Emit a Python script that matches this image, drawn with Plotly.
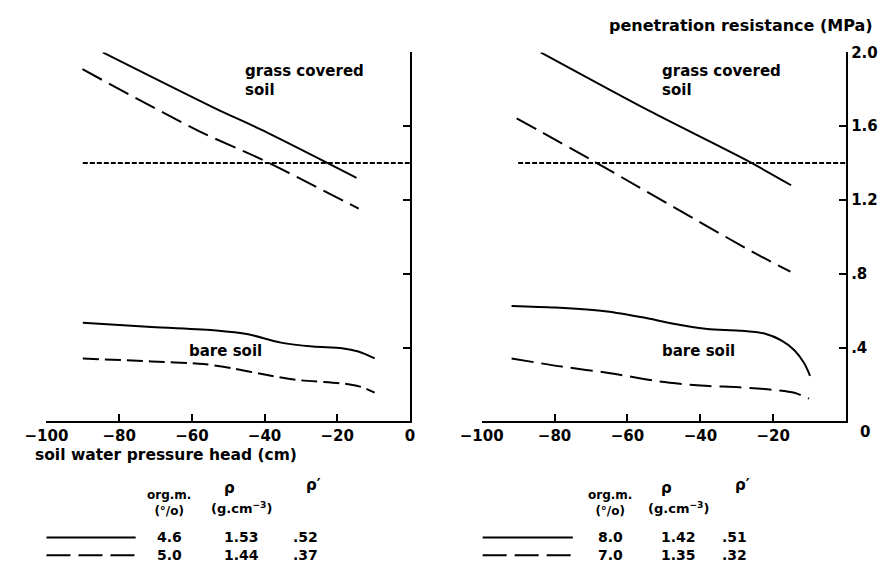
import plotly.graph_objects as go

# page body has an 8px default margin; the figure is sized to fill the rest of the window
OFF = 8
W, H = 887 - OFF, 568 - OFF

# ---------------- data ----------------
x_ticks = [-100, -80, -60, -40, -20, 0]
x_ticktext = ["\u2212100", "\u221280", "\u221260", "\u221240", "\u221220", "0"]
y_ticks = [0.4, 0.8, 1.2, 1.6, 2.0]
y_ticktext = [".4", ".8", "1.2", "1.6", "2.0"]

ref_x = [-90, 0]
ref_y = [1.4, 1.4]

left_grass_solid_x = [-84.5, -53.3, -40.8, -14.7]
left_grass_solid_y = [2.0, 1.694, 1.58, 1.32]
left_grass_dash_x = [-90.1, -57.8, -40.8, -14.1]
left_grass_dash_y = [1.909, 1.571, 1.42, 1.153]
left_bare_solid_x = [-90, -71.1, -53.3, -44.5, -35.5, -26.7, -18.7, -14.2, -9.7]
left_bare_solid_y = [0.535, 0.511, 0.493, 0.472, 0.427, 0.406, 0.397, 0.379, 0.342]
left_bare_dash_x = [-90, -71.1, -56.8, -48.9, -40, -31.2, -17.9, -13.3, -9.7]
left_bare_dash_y = [0.341, 0.325, 0.311, 0.288, 0.254, 0.225, 0.204, 0.186, 0.156]

right_grass_solid_x = [-83.8, -54.1, -27.5, -15.1]
right_grass_solid_y = [2.0, 1.684, 1.417, 1.28]
right_grass_dash_x = [-90.4, -69.1, -25.7, -15.3]
right_grass_dash_y = [1.643, 1.408, 0.919, 0.812]
right_bare_solid_x = [-91.8, -79.8, -65.6, -55.9, -47, -38.1, -29.3, -22.2, -17.8, -14.2, -11.5, -9.9]
right_bare_solid_y = [0.626, 0.617, 0.596, 0.564, 0.528, 0.501, 0.492, 0.475, 0.439, 0.386, 0.315, 0.247]
right_bare_dash_x = [-91.8, -78, -64.7, -51.4, -39.9, -29.3, -20.4, -14.2, -10.2]
right_bare_dash_y = [0.341, 0.297, 0.261, 0.217, 0.194, 0.185, 0.172, 0.155, 0.123]

left_orgm = ["4.6", "5.0"]
left_rho = ["1.53", "1.44"]
left_rhop = [".52", ".37"]
right_orgm = ["8.0", "7.0"]
right_rho = ["1.42", "1.35"]
right_rhop = [".51", ".32"]

FONT = "DejaVu Sans"
BLACK = "black"
SOLID = "solid"
DASH = "22px,8px"
DOT = "5px,2px"


def px(x):
    return (x - OFF) / W


def py(y):
    return 1 - (y - OFF) / H


fig = go.Figure()


def add_line(x, y, dash, xa, ya, spline=False):
    fig.add_trace(go.Scatter(
        x=x, y=y, mode="lines", xaxis=xa, yaxis=ya, showlegend=False,
        line=dict(color=BLACK, width=2, dash=dash,
                  shape="spline" if spline else "linear", smoothing=0.8),
        hoverinfo="skip"))


add_line(ref_x, ref_y, DOT, "x", "y")
add_line(left_grass_solid_x, left_grass_solid_y, SOLID, "x", "y", True)
add_line(left_grass_dash_x, left_grass_dash_y, DASH, "x", "y", True)
add_line(left_bare_solid_x, left_bare_solid_y, SOLID, "x", "y", True)
add_line(left_bare_dash_x, left_bare_dash_y, "16px,6px", "x", "y", True)

add_line(ref_x, ref_y, DOT, "x2", "y2")
add_line(right_grass_solid_x, right_grass_solid_y, SOLID, "x2", "y2", True)
add_line(right_grass_dash_x, right_grass_dash_y, DASH, "x2", "y2", True)
add_line(right_bare_solid_x, right_bare_solid_y, SOLID, "x2", "y2", True)
add_line(right_bare_dash_x, right_bare_dash_y, DASH, "x2", "y2", True)

ydom = [py(419), py(44)]
tickfont = dict(family=FONT, size=15, color=BLACK, weight="bold")
common_x = dict(range=[-100, 0], showline=True, linewidth=2, linecolor=BLACK,
                ticks="inside", ticklen=7, tickwidth=2, tickcolor=BLACK,
                showgrid=False, zeroline=False, tickfont=tickfont)
common_y = dict(range=[0, 2.0], domain=ydom, side="right", showline=True,
                linewidth=2, linecolor=BLACK, ticks="inside", ticklen=7,
                tickwidth=2, tickcolor=BLACK, showgrid=False, zeroline=False,
                tickvals=y_ticks, ticktext=y_ticktext, tickfont=tickfont)

fig.update_layout(
    width=W, height=H, margin=dict(l=0, r=0, t=0, b=0),
    paper_bgcolor="white", plot_bgcolor="white",
    font=dict(family=FONT, size=15, color=BLACK),
    xaxis=dict(domain=[px(25), px(400)], anchor="y",
               tickvals=x_ticks, ticktext=x_ticktext, **common_x),
    yaxis=dict(anchor="x", showticklabels=False, **common_y),
    xaxis2=dict(domain=[px(474), px(850)], anchor="y2",
                tickvals=x_ticks[:-1], ticktext=x_ticktext[:-1], **common_x),
    yaxis2=dict(anchor="x2", showticklabels=True, **common_y),
)

anns = []


def ann(text, x, y, xanchor="left", size=14):
    anns.append(dict(text=text, x=px(x), y=py(y), xref="paper", yref="paper",
                     xanchor=xanchor, yanchor="middle", showarrow=False,
                     font=dict(family=FONT, size=size, color=BLACK, weight="bold")))


ann("grass covered", 228, 63, size=15)
ann("soil", 228, 82, size=15)
ann("grass covered", 658, 63, size=15)
ann("soil", 658, 82, size=15)
ann("bare soil", 210, 347, "center", 15)
ann("bare soil", 698, 347, "center", 15)
ann("0", 869, 430, "center", 15)
ann("soil water pressure head (cm)", 11, 453, size=15.5)
ann("penetration resistance (MPa)", 603, 17, size=16)


def table(x_line0, x_line1, cx_org, cx_rho, cx_rhop, orgm, rho, rhop):
    ann("org.m.<br>(\u00b0/o)", cx_org - 1, 502, "center", 12)
    ann("\u03c1", cx_rho - 12, 487, "center", 15)
    ann("(g.cm<sup>\u22123</sup>)", cx_rho, 507, "center", 13)
    ann("\u03c1\u2032", cx_rhop + 8, 484, "center", 15)
    rows_y = [537, 555]
    for i, yy in enumerate(rows_y):
        ann(orgm[i], cx_org, yy, "center", 14)
        ann(rho[i], cx_rho, yy, "center", 14)
        ann(rhop[i], cx_rhop, yy, "center", 14)
        fig.add_shape(type="line", xref="paper", yref="paper",
                      x0=px(x_line0), x1=px(x_line1), y0=py(yy), y1=py(yy),
                      line=dict(color=BLACK, width=2,
                                dash="solid" if i == 0 else "24px,8px"))


table(25, 117, 152, 226, 292, left_orgm, left_rho, left_rhop)
table(475, 568, 607, 677, 735, right_orgm, right_rho, right_rhop)

fig.update_layout(annotations=anns)
fig.write_html("out.html")
